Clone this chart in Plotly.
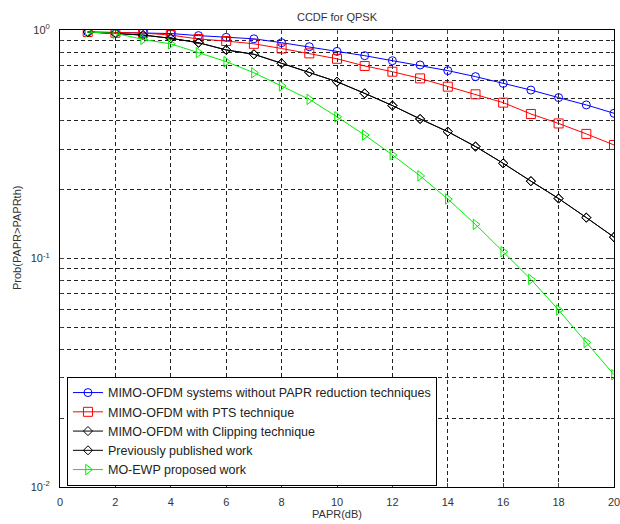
import plotly.graph_objects as go

papr_db = list(range(1, 21))

no_reduction = [0.98, 0.975, 0.975, 0.965, 0.945, 0.929, 0.915, 0.88, 0.845, 0.806,
                0.772, 0.734, 0.703, 0.664, 0.625, 0.584, 0.546, 0.506, 0.470, 0.432]
pts = [0.98, 0.973, 0.97, 0.95, 0.913, 0.895, 0.87, 0.83, 0.79, 0.748,
       0.696, 0.657, 0.614, 0.565, 0.523, 0.481, 0.429, 0.39, 0.351, 0.314]
clipping = [0.98, 0.967, 0.95, 0.92, 0.88, 0.818, 0.783, 0.715, 0.653, 0.594,
            0.528, 0.467, 0.408, 0.359, 0.309, 0.261, 0.218, 0.183, 0.151, 0.124]
previous = [0.98, 0.967, 0.95, 0.92, 0.88, 0.818, 0.783, 0.715, 0.653, 0.594,
            0.528, 0.467, 0.408, 0.359, 0.309, 0.261, 0.218, 0.183, 0.151, 0.124]
mo_ewp = [0.98, 0.967, 0.91, 0.869, 0.796, 0.727, 0.65, 0.569, 0.497, 0.417,
          0.347, 0.284, 0.23, 0.182, 0.141, 0.107, 0.081, 0.0595, 0.0429, 0.031]

names = ["MIMO-OFDM systems without PAPR reduction techniques",
         "MIMO-OFDM with PTS technique",
         "MIMO-OFDM with Clipping technique",
         "Previously published work",
         "MO-EWP proposed work"]

y_major_vals = [1, 0.1, 0.01]
y_major_text = ["10<sup>0</sup>", "10<sup>-1</sup>", "10<sup>-2</sup>"]
y_minor_vals = [0.02, 0.03, 0.04, 0.05, 0.06, 0.07, 0.08, 0.09,
                0.2, 0.3, 0.4, 0.5, 0.6, 0.7, 0.8, 0.9]
x_ticks = [0, 2, 4, 6, 8, 10, 12, 14, 16, 18, 20]

series = [no_reduction, pts, clipping, previous, mo_ewp]
colors = ["#0000FF", "#FF0000", "#000000", "#000000", "#00EE00"]
symbols = ["circle-open", "square-open", "diamond-open", "diamond-open", "triangle-right-open"]
sizes = [8, 9, 7, 7, 9]

fig = go.Figure()
for name, ys, c, s, sz in zip(names, series, colors, symbols, sizes):
    fig.add_trace(go.Scatter(
        x=papr_db, y=ys, name=name, mode="lines+markers",
        line=dict(color=c, width=1),
        marker=dict(symbol=s, size=sz, color=c, line=dict(width=1, color=c)),
    ))

grid_dash = "4px,3px"
font = "Liberation Sans, Arial, sans-serif"

fig.update_layout(
    width=620, height=524,
    paper_bgcolor="white", plot_bgcolor="white",
    margin=dict(l=60, r=6, t=30, b=37, autoexpand=False),
    font=dict(family=font, size=11, color="#222"),
    title=dict(text="CCDF for QPSK", x=(60 + 554 / 2) / 620, xanchor="center",
               y=1 - 17 / 524, yanchor="middle", automargin=False,
               font=dict(size=11, color="#333")),
    showlegend=True,
    legend=dict(x=0.0126, y=0.0023, xanchor="left", yanchor="bottom",
                bordercolor="black", borderwidth=1, bgcolor="white",
                font=dict(size=12.5, color="#222"), tracegroupgap=0),
    annotations=[dict(text="Prob(PAPR>PAPRth)", textangle=-90, xref="paper", yref="paper",
                      x=(17 - 60) / 554, y=(487 - 238) / 457, xanchor="center", yanchor="middle",
                      showarrow=False, font=dict(size=11, color="#333"))],
)

fig.update_xaxes(
    range=[0, 20], tickvals=x_ticks, ticks="inside", ticklen=4, automargin=False,
    ticklabeloverflow="allow", ticklabelstandoff=5,
    showline=True, linecolor="black", linewidth=1, mirror="ticks",
    showgrid=True, gridcolor="#222", griddash=grid_dash, gridwidth=1,
    zeroline=False, tickfont=dict(size=11, color="#333"),
    title=dict(text="PAPR(dB)", standoff=3, font=dict(size=11, color="#333")),
)
fig.update_yaxes(
    type="log", range=[-2, 0], tickmode="array", tickvals=y_major_vals, ticktext=y_major_text,
    ticks="inside", ticklen=4, automargin=False, ticklabelstandoff=7,
    showline=True, linecolor="black", linewidth=1, mirror="ticks",
    showgrid=True, gridcolor="#222", griddash=grid_dash, gridwidth=1,
    zeroline=False, tickfont=dict(size=11, color="#333"),
    minor=dict(tickmode="array", tickvals=y_minor_vals, ticks="inside", ticklen=3,
               showgrid=True, gridcolor="#222", griddash=grid_dash, gridwidth=1),
)

fig.write_html("out.html", config={"displayModeBar": False},
               post_script="document.body.style.margin='0';")
